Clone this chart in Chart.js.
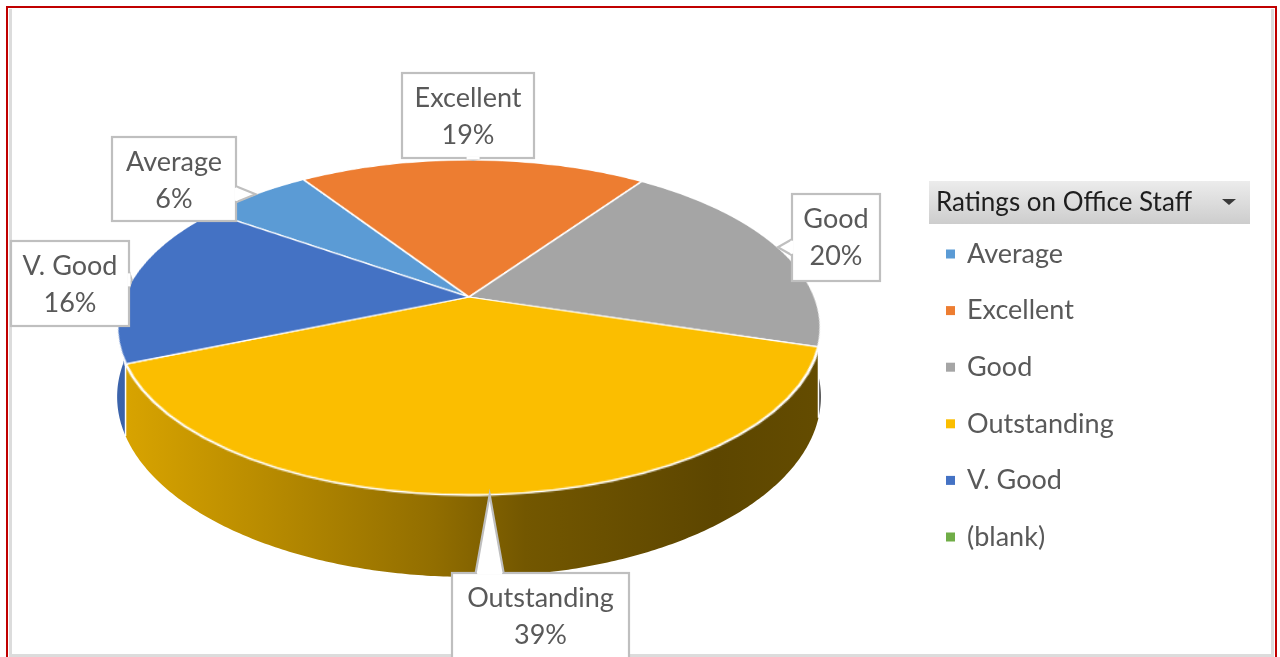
<!DOCTYPE html>
<html>
<head>
<meta charset="utf-8">
<title>Ratings on Office Staff</title>
<script src="https://cdn.jsdelivr.net/npm/chart.js@4.4.1/dist/chart.umd.min.js"></script>
<style>
  html, body { margin: 0; padding: 0; background: #fff; }
  #wrap { width: 1280px; height: 657px; }
</style>
</head>
<body>
<div id="wrap"><canvas id="ratings" width="1280" height="657"></canvas></div>
<script>
const categories = ["Average", "Excellent", "Good", "Outstanding", "V. Good", "(blank)"];
const shares = [6, 19, 20, 39, 16, 0];
const sliceColors = ["#5b9bd5", "#ed7d31", "#a5a5a5", "#fbbe00", "#4472c4", "#70ad47"];
const legendTitle = "Ratings on Office Staff";

// camera for the tilted pie: hub position, half width, tilt, perspective, wall height
const view = { x0: 469, y0: 297, a: 346, c: 162, p: 0.182, depth: 67 };
// the library draws the flat pie here first (an ellipse), then it gets re-projected
const flat = { cx: 470, cy: 330, ry: 170 };

// callout boxes [x, y, w, h], same order as categories
const calloutBoxes = [
  [112, 137, 124, 84],
  [402, 73, 132, 85],
  [792, 194, 88, 87],
  [452, 573, 177, 92],
  [11, 241, 118, 85],
  null,
];

const FONT = "Lato, 'Open Sans', sans-serif";

function shade(hex, f) {
  const n = parseInt(hex.slice(1), 16);
  const r = Math.round(((n >> 16) & 255) * f);
  const g = Math.round(((n >> 8) & 255) * f);
  const b = Math.round((n & 255) * f);
  return `rgb(${r},${g},${b})`;
}

function norm(a) {
  const t = Math.PI * 2;
  return ((a % t) + t) % t;
}

// unit disc (u right, w toward viewer) -> page
function project(u, w) {
  const D = 1 - view.p * w;
  return { x: view.x0 + (view.a * u) / D, y: view.y0 + (view.c * w) / D, D };
}

function rim(theta, bottom = false) {
  const pt = project(Math.cos(theta), Math.sin(theta));
  if (bottom) pt.y += view.depth / pt.D;
  return pt;
}

const framePlugin = {
  id: "frame",
  beforeDraw(chart) {
    const ctx = chart.ctx;
    ctx.save();
    ctx.fillStyle = "#dcdcdc";
    ctx.fillRect(9, 9, 3, 648);
    ctx.fillRect(1271, 9, 3, 648);
    ctx.fillRect(9, 654, 1265, 3);
    ctx.fillStyle = "#c00000";
    ctx.fillRect(6, 6, 2, 651);
    ctx.fillRect(6, 6, 1271, 2);
    ctx.fillRect(1275, 6, 2, 651);
    ctx.restore();
  },
};

function drawWalls(ctx, meta) {
  const left = view.x0 - view.a * 1.02, right = view.x0 + view.a * 1.02;
  meta.data.forEach((arc, i) => {
    if (shares[i] === 0) return;
    const s = norm(arc.startAngle);
    const e = s + (arc.endAngle - arc.startAngle);
    [[0, Math.PI], [Math.PI * 2, Math.PI * 3]].forEach(([lo, hi]) => {
      const a0 = Math.max(s, lo), a1 = Math.min(e, hi);
      if (a1 <= a0) return;
      const c = sliceColors[i];
      const grad = ctx.createLinearGradient(left, 0, right, 0);
      grad.addColorStop(0, shade(c, 0.87));
      grad.addColorStop(0.45, shade(c, 0.58));
      grad.addColorStop(0.58, shade(c, 0.46));
      grad.addColorStop(0.85, shade(c, 0.37));
      grad.addColorStop(1, shade(c, 0.4));
      const steps = Math.max(2, Math.ceil((a1 - a0) / 0.01));
      ctx.beginPath();
      for (let k = 0; k < steps; k++) {
        const t0 = a0 + ((a1 - a0) * k) / steps;
        const t1 = a0 + ((a1 - a0) * (k + 1)) / steps;
        const p0 = rim(t0), p1 = rim(t1), q1 = rim(t1, true), q0 = rim(t0, true);
        ctx.moveTo(p0.x, p0.y);
        ctx.lineTo(p1.x, p1.y);
        ctx.lineTo(q1.x, q1.y);
        ctx.lineTo(q0.x, q0.y);
        ctx.closePath();
      }
      ctx.fillStyle = grad;
      ctx.fill("nonzero");
      if (a0 > lo) {
        const p = rim(a0), q = rim(a0, true);
        ctx.beginPath();
        ctx.moveTo(p.x, p.y);
        ctx.lineTo(q.x, q.y);
        ctx.strokeStyle = "#fff";
        ctx.lineWidth = 1.5;
        ctx.stroke();
      }
    });
  });
}

const tiltPlugin = {
  id: "tilt",
  beforeDatasetsDraw(chart) {
    const ctx = chart.ctx;
    const first = chart.getDatasetMeta(0).data[0];
    const R = first.outerRadius;
    ctx.save();
    ctx.translate(flat.cx, flat.cy);
    ctx.scale(view.a / R, flat.ry / R);
    ctx.translate(-first.x, -first.y);
  },
  afterDatasetsDraw(chart) {
    const ctx = chart.ctx;
    ctx.restore();
    const meta = chart.getDatasetMeta(0);

    // lift the flat ellipse off the canvas
    const L = Math.floor(flat.cx - view.a - 6), T = Math.floor(flat.cy - flat.ry - 6);
    const W = Math.ceil(2 * view.a + 12), H = Math.ceil(2 * flat.ry + 12);
    const off = document.createElement("canvas");
    off.width = W;
    off.height = H;
    off.getContext("2d").drawImage(chart.canvas, L, T, W, H, 0, 0, W, H);
    ctx.clearRect(L, T, W, H);

    drawWalls(ctx, meta);

    // put it back row by row in perspective
    ctx.save();
    ctx.imageSmoothingEnabled = true;
    const yTop = Math.floor(view.y0 - view.c / (1 + view.p)) - 3;
    const yBot = Math.ceil(view.y0 + view.c / (1 - view.p)) + 3;
    for (let Y = yTop; Y <= yBot; Y++) {
      const t = Y + 0.5 - view.y0;
      const w = t / (view.c + view.p * t);
      if (Math.abs(w) > 1.04) continue;
      const D = 1 - view.p * w;
      let sy = flat.cy + flat.ry * w - T - 0.5;
      sy = Math.min(Math.max(sy, 0), H - 1);
      const dx = view.x0 + (L - flat.cx) / D;
      ctx.drawImage(off, 0, sy, W, 1, dx, Y, W / D, 1);
    }
    ctx.restore();
  },
};

function drawCallout(ctx, box, tip, lines) {
  const [x, y, w, h] = box;
  ctx.save();
  ctx.fillStyle = "#fff";
  ctx.fillRect(x, y, w, h);
  ctx.strokeStyle = "#bfbfbf";
  ctx.lineWidth = 2.2;
  ctx.strokeRect(x, y, w, h);

  const inside = tip.x > x && tip.x < x + w && tip.y > y && tip.y < y + h;
  if (!inside) {
    const far = Math.hypot(tip.x - (x + w / 2), tip.y - (y + h / 2)) > 110;
    const half = far ? 14 : 8;
    let b0, b1;
    if (tip.y >= y + h || tip.y <= y) {
      const yy = tip.y >= y + h ? y + h : y;
      const bx = Math.min(Math.max(tip.x, x + half + 4), x + w - half - 4);
      b0 = { x: bx - half, y: yy };
      b1 = { x: bx + half, y: yy };
    } else {
      const xx = tip.x >= x + w ? x + w : x;
      const by = Math.min(Math.max(tip.y, y + half + 4), y + h - half - 4);
      b0 = { x: xx, y: by - half };
      b1 = { x: xx, y: by + half };
    }
    ctx.beginPath();
    ctx.moveTo(b0.x, b0.y);
    ctx.lineTo(tip.x, tip.y);
    ctx.lineTo(b1.x, b1.y);
    ctx.fill();
    ctx.stroke();
    // open the box edge under the wedge
    const sx = Math.sign(b1.x - b0.x), sy = Math.sign(b1.y - b0.y);
    ctx.beginPath();
    ctx.moveTo(b0.x + 1.5 * sx, b0.y + 1.5 * sy);
    ctx.lineTo(b1.x - 1.5 * sx, b1.y - 1.5 * sy);
    ctx.strokeStyle = "#fff";
    ctx.lineWidth = 3;
    ctx.stroke();
  }

  ctx.fillStyle = "#595959";
  ctx.font = `27px ${FONT}`;
  ctx.textAlign = "center";
  ctx.textBaseline = "middle";
  ctx.fillText(lines[0], x + w / 2, y + 25);
  ctx.fillText(lines[1], x + w / 2, y + 62);
  ctx.restore();
}

const labelPlugin = {
  id: "callouts",
  afterDraw(chart) {
    const ctx = chart.ctx;
    const meta = chart.getDatasetMeta(0);
    const total = shares.reduce((a, b) => a + b, 0);
    meta.data.forEach((arc, i) => {
      if (!calloutBoxes[i] || shares[i] === 0) return;
      const tip = rim((arc.startAngle + arc.endAngle) / 2);
      const pct = Math.round((shares[i] / total) * 100) + "%";
      drawCallout(ctx, calloutBoxes[i], tip, [categories[i], pct]);
    });

    // legend, with the pivot field button on top
    ctx.save();
    const hx = 929, hy = 181, hw = 321, hh = 43;
    const g = ctx.createLinearGradient(0, hy, 0, hy + hh);
    g.addColorStop(0, "#ececec");
    g.addColorStop(1, "#cdcdcd");
    ctx.fillStyle = g;
    ctx.fillRect(hx, hy, hw, hh);
    ctx.fillStyle = "#1e1e1e";
    ctx.font = `26px ${FONT}`;
    ctx.textBaseline = "middle";
    ctx.fillText(legendTitle, 936, hy + hh / 2);
    ctx.fillStyle = "#3a3a3a";
    ctx.beginPath();
    ctx.moveTo(1222, 199);
    ctx.lineTo(1236, 199);
    ctx.lineTo(1229, 205);
    ctx.closePath();
    ctx.fill();

    ctx.font = `27px ${FONT}`;
    chart.data.labels.forEach((lab, i) => {
      const cy = 254 + i * 56.6;
      ctx.fillStyle = chart.data.datasets[0].backgroundColor[i];
      ctx.fillRect(946, cy - 4.5, 9, 9);
      ctx.fillStyle = "#595959";
      ctx.fillText(lab, 967, cy);
    });
    ctx.restore();
  },
};

new Chart(document.getElementById("ratings"), {
  type: "pie",
  data: {
    labels: categories,
    datasets: [{
      data: shares,
      backgroundColor: sliceColors,
      borderColor: "#ffffff",
      borderWidth: 2.5,
      clip: false,
    }],
  },
  options: {
    responsive: false,
    animation: false,
    events: [],
    rotation: -55,
    layout: { padding: 0 },
    plugins: {
      legend: { display: false },
      tooltip: { enabled: false },
    },
  },
  plugins: [framePlugin, tiltPlugin, labelPlugin],
});
</script>
</body>
</html>
